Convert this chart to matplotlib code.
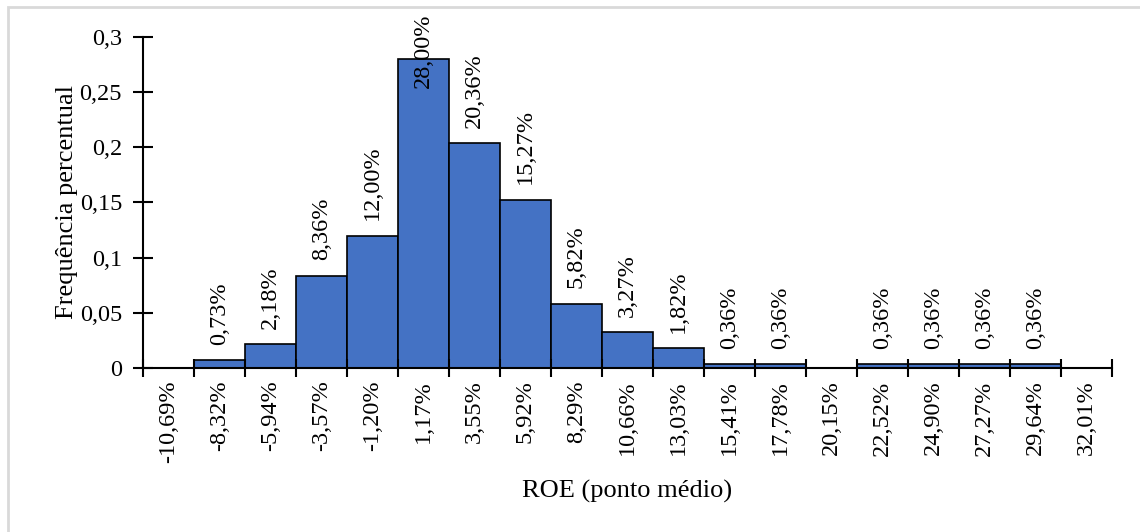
import numpy as np
import matplotlib
matplotlib.use("Agg")
import matplotlib.pyplot as plt
from matplotlib.patches import Rectangle

# ponto médio de cada classe de ROE e frequência relativa
classes = ["-10,69%", "-8,32%", "-5,94%", "-3,57%", "-1,20%", "1,17%", "3,55%",
           "5,92%", "8,29%", "10,66%", "13,03%", "15,41%", "17,78%", "20,15%",
           "22,52%", "24,90%", "27,27%", "29,64%", "32,01%"]
frequencias = [0.0, 0.0073, 0.0218, 0.0836, 0.1200, 0.2800, 0.2036, 0.1527,
               0.0582, 0.0327, 0.0182, 0.0036, 0.0036, 0.0, 0.0036, 0.0036,
               0.0036, 0.0036, 0.0]
y_ticks = [0, 0.05, 0.1, 0.15, 0.2, 0.25, 0.3]

plt.rcParams["font.family"] = ["Liberation Serif", "DejaVu Serif"]
plt.rcParams["font.size"] = 17.5

fig = plt.figure(figsize=(11.4, 5.32), dpi=100)
ax = fig.add_axes([0.1254, 0.3083, 0.85, 0.6222])

# moldura cinza clara (só as bordas esquerda e superior aparecem)
y_top = 1 - 7 / 532
fig.patches.append(Rectangle((8 / 1140, -0.2), 1.2, y_top + 0.2,
                             transform=fig.transFigure, fill=False,
                             edgecolor="#d9d9d9", linewidth=2))

x = np.arange(len(classes))
ax.bar(x, frequencias, width=1.0, color="#4472C4", edgecolor="black", linewidth=1.2)

for xi, v in zip(x, frequencias):
    if v <= 0:
        continue
    label = f"{v * 100:.2f}%".replace(".", ",")
    # rótulo da barra maior é puxado para dentro da área do gráfico
    dy = -21 if v > 0.25 else 11
    ax.annotate(label, (xi, v), xytext=(0, dy), textcoords="offset points",
                rotation=90, ha="center", va="bottom", fontsize=17.5,
                annotation_clip=False)

ax.set_xlim(-0.5, len(classes) - 0.5)
ax.set_ylim(0, 0.3)

ax.set_xticks(np.arange(len(classes) + 1) - 0.5)
ax.set_xticklabels([])
ax.set_xticks(x, minor=True)
ax.set_xticklabels(classes, minor=True, rotation=90)
ax.tick_params(axis="x", which="major", direction="inout", length=13, width=1.5)
ax.tick_params(axis="x", which="minor", length=0, pad=9)

ax.set_yticks(y_ticks)
ax.set_yticklabels([f"{t:g}".replace(".", ",") for t in y_ticks])
ax.tick_params(axis="y", direction="inout", length=14, width=1.5, pad=8)

for side in ["top", "right"]:
    ax.spines[side].set_visible(False)
for side in ["left", "bottom"]:
    ax.spines[side].set_linewidth(1.5)

ax.set_ylabel("Frequência percentual", fontsize=19, labelpad=1)
ax.set_xlabel("ROE (ponto médio)", fontsize=19, labelpad=12)

fig.savefig("out.png", dpi=100)
